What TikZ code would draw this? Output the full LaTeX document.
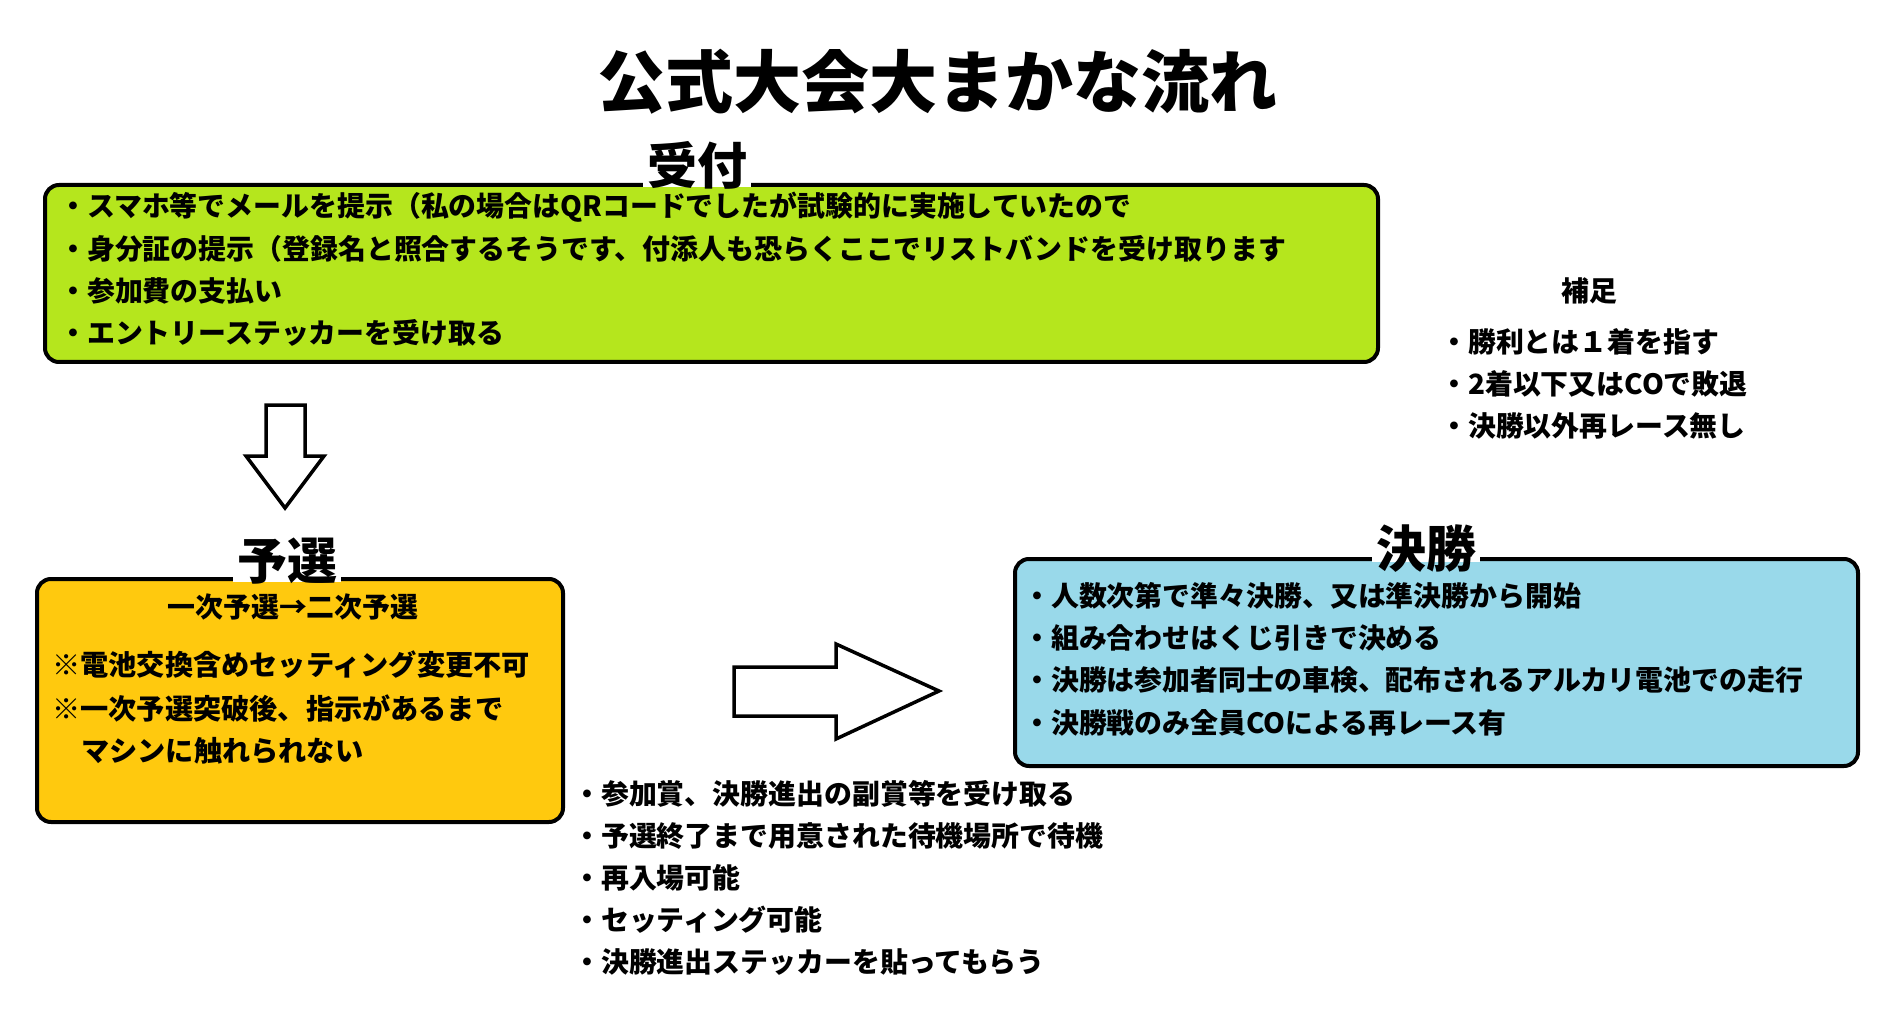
\documentclass[tikz,border=0pt]{standalone}
\usepackage{fontspec}
\setmainfont{Noto Sans CJK JP}
\definecolor{boxgreen}{HTML}{B5E61D}
\definecolor{boxgold}{HTML}{FFC90E}
\definecolor{boxblue}{HTML}{99D9EA}
\tikzset{
  panel/.style={draw=black, line width=4pt, rounded corners=14pt, anchor=north west, inner sep=0pt},
  txt/.style={anchor=west, inner sep=0pt, font=\fontsize{27.9}{33}\selectfont\bfseries},
  bigtxt/.style={anchor=west, inner sep=0pt, font=\fontsize{28.2}{34}\selectfont\bfseries},
  heading/.style={inner sep=0pt, font=\fontsize{50}{60}\selectfont\bfseries},
  blockarrow/.style={draw=black, fill=white, line width=3.5pt, line join=miter},
}
\begin{document}
\begin{tikzpicture}[x=1pt,y=-1pt]
\useasboundingbox (0,0) rectangle (1880,1024);
\fill[white] (0,0) rectangle (1880,1024);

% title
\node[inner sep=0pt, font=\fontsize{68}{74}\selectfont\bfseries] (title) at (937,82) {公式大会大まかな流れ};

% boxes
\node[panel, fill=boxgreen, minimum width=1333pt, minimum height=177pt] (ukebox) at (43,183) {};
\node[panel, fill=boxgold, minimum width=526pt, minimum height=243pt] (yobox) at (35,577) {};
\node[panel, fill=boxblue, minimum width=843pt, minimum height=207pt] (kebox) at (1013,557) {};

% white gaps in the borders behind the headings
\fill[white] (643,178) rectangle (751,187);
\fill[white] (233,572) rectangle (341,582);
\fill[white] (1372,552) rectangle (1480,562);

% headings
\node[heading] (uketsuke) at (697,165) {受付};
\node[heading] (yosen) at (287,561) {予選};
\node[heading] (kessho) at (1426,549) {決勝};

% green box lines
\node[txt] (u1) at (59,207) {・スマホ等でメールを提示（私の場合はQRコードでしたが試験的に実施していたので};
\node[txt] (u2) at (59,249) {・身分証の提示（登録名と照合するそうです、付添人も恐らくここでリストバンドを受け取ります};
\node[txt] (u3) at (59,291) {・参加費の支払い};
\node[txt] (u4) at (59,333) {・エントリーステッカーを受け取る};

% yellow box lines
\node[txt, anchor=center] (y0) at (293,607) {一次予選→二次予選};
\node[bigtxt] (y1) at (52,665) {※電池交換含めセッティング変更不可};
\node[bigtxt] (y2) at (52,709) {※一次予選突破後、指示があるまで};
\node[bigtxt] (y3) at (81,751) {マシンに触れられない};

% blue box lines
\node[txt] (k1) at (1023,596) {・人数次第で準々決勝、又は準決勝から開始};
\node[txt] (k2) at (1023,638) {・組み合わせはくじ引きで決める};
\node[txt] (k3) at (1023,680) {・決勝は参加者同士の車検、配布されるアルカリ電池での走行};
\node[txt] (k4) at (1023,723) {・決勝戦のみ全員COによる再レース有};

% lines below
\node[txt] (b1) at (573,794) {・参加賞、決勝進出の副賞等を受け取る};
\node[txt] (b2) at (573,836) {・予選終了まで用意された待機場所で待機};
\node[txt] (b3) at (573,878) {・再入場可能};
\node[txt] (b4) at (573,920) {・セッティング可能};
\node[txt] (b5) at (573,962) {・決勝進出ステッカーを貼ってもらう};

% supplement
\node[txt, anchor=center] (hosoku) at (1589,291) {補足};
\node[txt] (h1) at (1440,342) {・勝利とは１着を指す};
\node[txt] (h2) at (1440,384) {・2着以下又はCOで敗退};
\node[txt] (h3) at (1440,426) {・決勝以外再レース無し};

% block arrows
\draw[blockarrow] (266,405) -- (305,405) -- (305,456) -- (324,456) -- (285,508) -- (246,456) -- (266,456) -- cycle;
\draw[blockarrow] (734,667) -- (836,667) -- (836,644) -- (939,691) -- (836,739) -- (836,716) -- (734,716) -- cycle;
\end{tikzpicture}
\end{document}
